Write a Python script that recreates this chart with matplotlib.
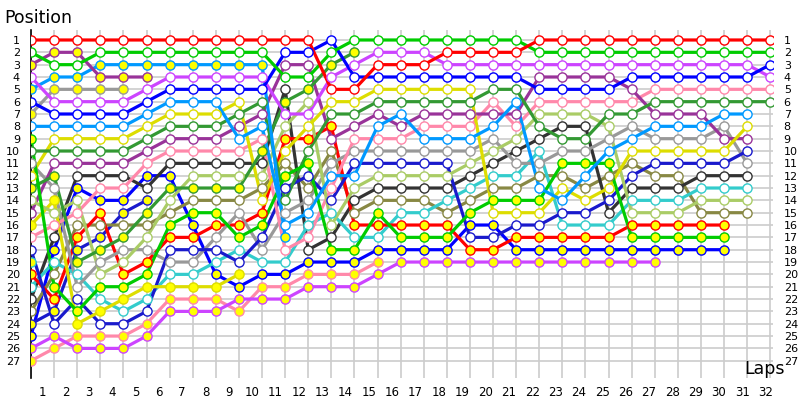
import matplotlib
matplotlib.use("Agg")
import matplotlib.pyplot as plt

N = None
laps = list(range(0, 33))
lap_labels = [str(i) for i in range(1, 33)]
positions = list(range(1, 28))

red_w = [1,1,1,1,1,1,1,1,1,1,1,1,1,5,5,3,3,3,2,2,2,2,1,1,1,1,1,1,1,1,1,1,1]
green_w = [2,3,3,2,2,2,2,2,2,2,2,4,4,2,1,1,1,1,1,1,1,1,2,2,2,2,2,2,2,2,2,2,2]
blue_w = [6,7,7,7,7,6,5,5,5,5,5,2,2,1,4,4,4,4,4,4,4,4,5,5,5,5,4,4,4,4,4,4,3]
violet_w = [4,6,6,6,6,5,4,4,4,4,4,7,7,4,3,2,2,2,3,3,3,3,3,3,3,3,3,3,3,3,3,3,4]
dkpurple_y = [3,2,2,4,4,4,N,N,N,N,N,N,N,N,N,N,N,N,N,N,N,N,N,N,N,N,N,N,N,N,N,N,N]
ltblue_y = [5,4,4,3,3,3,3,3,3,3,3,17,N,N,N,N,N,N,N,N,N,N,N,N,N,N,N,N,N,N,N,N,N]
gray_y = [7,5,5,5,5,N,N,N,N,N,N,N,N,N,N,N,N,N,N,N,N,N,N,N,N,N,N,N,N,N,N,N,N]
ltblue_w = [8,8,8,8,8,7,6,6,6,9,8,16,15,12,12,8,7,9,9,9,8,6,13,14,12,10,9,8,8,8,7,7,N]
green_y = [9,21,23,21,21,20,16,15,15,17,16,12,11,18,18,15,17,17,17,15,14,14,14,11,11,11,17,17,17,17,17,N,N]
dkgreen_w = [10,10,10,10,10,9,8,8,8,7,6,14,10,7,7,6,6,6,6,6,5,5,8,9,9,7,7,6,6,6,6,6,6]
dkgreen_y = [13,12,19,18,17,15,13,13,13,13,10,6,5,3,2,N,N,N,N,N,N,N,N,N,N,N,N,N,N,N,N,N,N]
yellow_w = [12,9,9,9,9,8,7,7,7,6,14,10,8,6,6,5,5,5,5,5,15,15,15,13,14,13,10,10,10,10,10,8,N]
ltgreen_w = [14,15,14,20,19,17,14,12,12,12,12,8,6,16,13,12,12,12,12,11,10,9,7,7,7,8,15,15,15,14,14,14,N]
dkpurple_w = [15,11,11,11,11,10,9,9,9,8,7,3,3,9,8,7,8,7,7,7,7,7,4,4,4,4,5,7,7,7,9,9,N]
yellow_y = [16,14,24,23,22,21,21,21,21,20,N,N,N,N,N,N,N,N,N,N,N,N,N,N,N,N,N,N,N,N,N,N,N]
pink_w = [17,16,15,13,13,11,10,10,10,10,9,18,17,13,9,9,9,8,8,8,6,8,6,6,6,6,6,5,5,5,5,5,5]
navy_w = [18,24,22,24,24,23,18,18,18,19,17,13,12,14,11,11,11,11,11,17,17,16,16,15,15,14,12,11,11,11,11,10,N]
gray_w = [11,13,21,19,18,18,19,19,17,15,18,15,14,11,10,10,10,10,10,10,9,11,11,10,10,9,8,9,9,9,8,11,N]
red_y = [20,22,17,15,20,19,17,17,16,16,15,9,9,8,16,16,16,16,16,18,18,17,17,17,17,17,16,16,16,16,16,N,N]
cyan_w = [21,19,20,22,23,22,20,20,19,18,19,19,16,15,17,17,15,15,14,13,12,12,10,16,16,16,14,14,14,13,13,13,N]
black_w = [22,17,12,12,12,13,11,11,11,11,11,5,18,17,14,13,13,13,13,12,11,10,9,8,8,15,13,13,13,12,12,12,N]
olive_w = [23,20,16,16,16,16,15,14,14,14,13,11,13,10,15,14,14,14,15,14,13,13,12,12,13,12,11,12,12,15,15,15,N]
navy_y = [24,23,18,17,15,14,N,N,N,N,N,N,N,N,N,N,N,N,N,N,N,N,N,N,N,N,N,N,N,N,N,N,N]
blue_y = [25,18,13,14,14,12,12,16,20,21,20,20,19,19,19,18,18,18,18,16,16,18,18,18,18,18,18,18,18,18,18,N,N]
violet_y = [26,25,26,26,26,25,23,23,23,22,22,22,21,21,21,20,19,19,19,19,19,19,19,19,19,19,19,19,N,N,N,N,N]
pink_y = [27,26,25,25,25,24,22,22,22,23,21,21,20,20,20,19,N,N,N,N,N,N,N,N,N,N,N,N,N,N,N,N,N]
cyan_y = [19,N,N,N,N,N,N,N,N,N,N,N,N,N,N,N,N,N,N,N,N,N,N,N,N,N,N,N,N,N,N,N,N]

RED, GREEN, DKPUR, VIOL = "#ff0000", "#00cc00", "#993399", "#cc44ff"
LTBL, BLUE, GRAY, YEL = "#0099ff", "#0000ff", "#999999", "#dddd00"
DKGR, PINK, BLACK, LTGR = "#339933", "#ff88aa", "#333333", "#aacc66"
OLIVE, CYAN, NAVY = "#888844", "#33cccc", "#1a1acc"
W, Y = "#ffffff", "#ffff00"

drivers = [
    (red_w, RED, W), (green_w, GREEN, W), (blue_w, BLUE, W), (violet_w, VIOL, W),
    (dkpurple_y, DKPUR, Y), (ltblue_y, LTBL, Y), (gray_y, GRAY, Y), (ltblue_w, LTBL, W),
    (green_y, GREEN, Y), (dkgreen_w, DKGR, W), (dkgreen_y, DKGR, Y), (yellow_w, YEL, W),
    (ltgreen_w, LTGR, W), (dkpurple_w, DKPUR, W), (yellow_y, YEL, Y), (pink_w, PINK, W),
    (navy_w, NAVY, W), (gray_w, GRAY, W), (red_y, RED, Y), (cyan_w, CYAN, W),
    (black_w, BLACK, W), (olive_w, OLIVE, W), (navy_y, NAVY, Y), (blue_y, BLUE, Y),
    (violet_y, VIOL, Y), (pink_y, PINK, Y), (cyan_y, CYAN, Y),
]

fig = plt.figure(figsize=(8, 4), dpi=100)
ax = fig.add_axes([0.03875, 0.055, 0.927, 0.87])
ax.set_xlim(0, 32.1)
ax.set_ylim(28.4, 0.19)

for vals, col, face in reversed(drivers):
    xs = [l for l, v in zip(laps, vals) if v is not None]
    ys = [v for v in vals if v is not None]
    ax.plot(xs, ys, color=col, lw=2.3, solid_joinstyle="round", zorder=2)
    ax.plot(xs, ys, ls="none", marker="o", ms=6.6, mfc=face, mec=col, mew=1.0, zorder=3)

ax.set_yticks(positions)
ax.set_yticklabels([str(p) for p in positions], fontsize=8)
ax.tick_params(axis="y", length=0, pad=8, labelright=True, right=False)
ax.set_xticks(laps)
ax.set_xticklabels([""] * len(laps))
label_pos = [0.48 + (k - 1) * 1.0103 for k in range(1, 33)]
ax.set_xticks(label_pos, minor=True)
ax.set_xticklabels(lap_labels, minor=True, fontsize=8.5)
ax.tick_params(axis="x", which="both", length=0, pad=6)
ax.grid(True, color="#cccccc", lw=1.2, zorder=0)
ax.set_axisbelow(True)
for s in ["top", "right", "bottom"]:
    ax.spines[s].set_visible(False)
ax.spines["left"].set_color("black")
ax.spines["left"].set_linewidth(1.2)

fig.text(0.005, 0.955, "Position", fontsize=12.5, va="center", ha="left")
fig.text(0.93, 0.077, "Laps", fontsize=12.5, va="center", ha="left")

fig.savefig("out.png", dpi=100)
